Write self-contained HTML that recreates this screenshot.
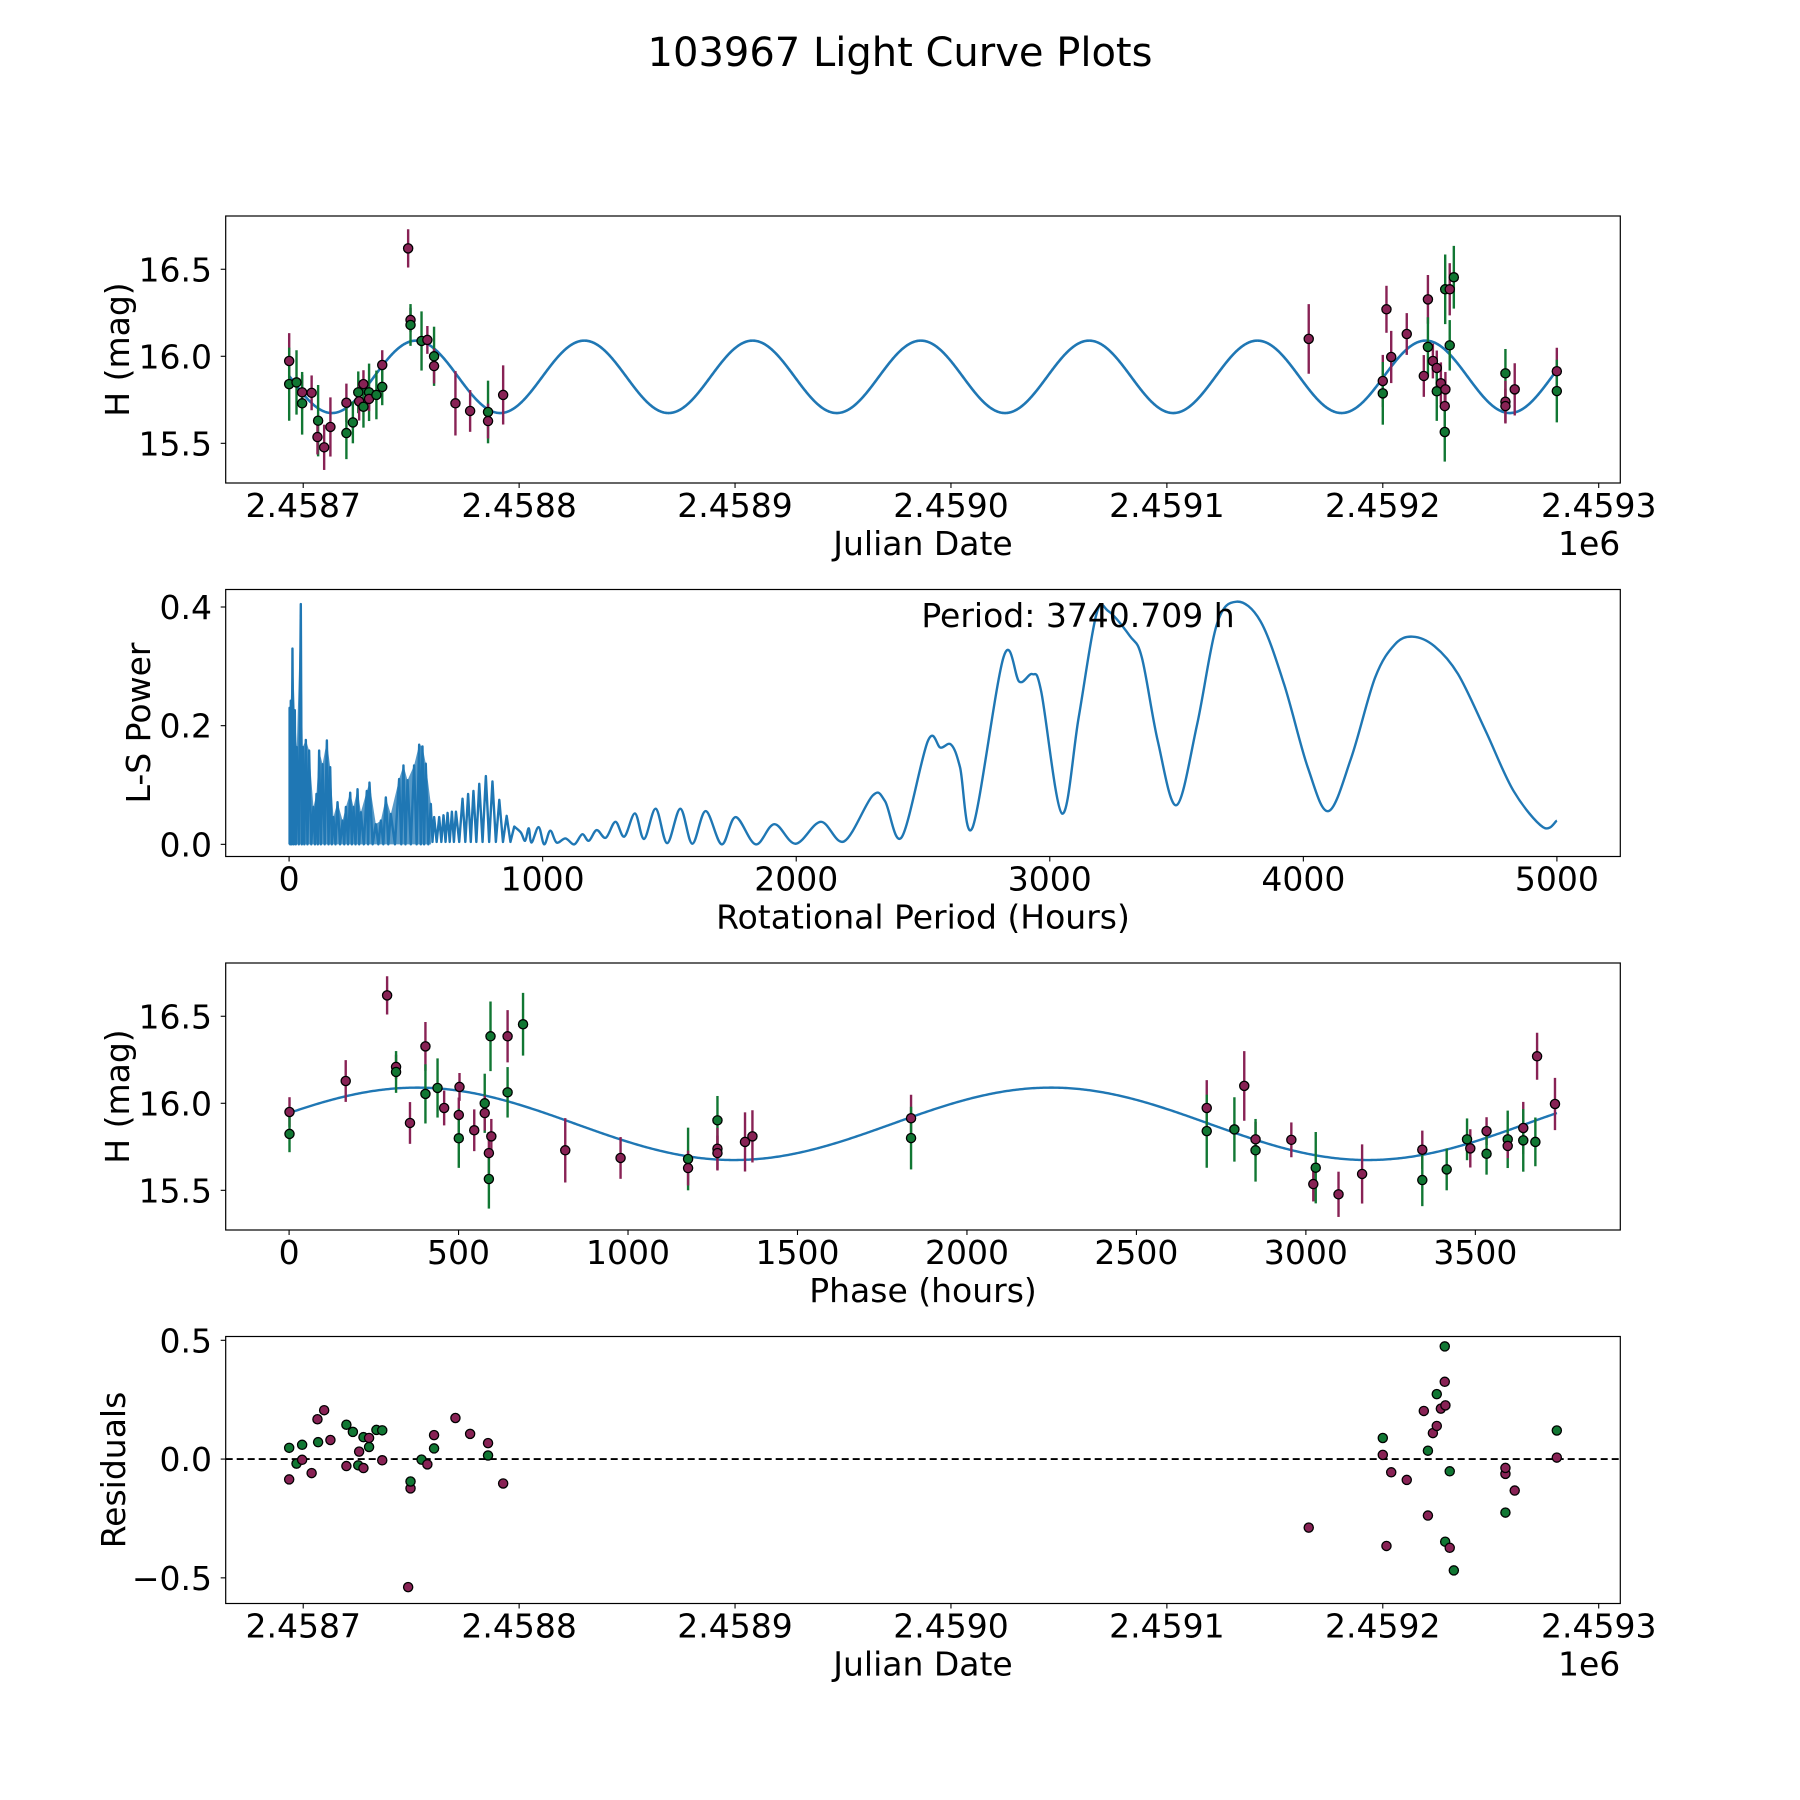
<!DOCTYPE html>
<html><head><meta charset="utf-8"><style>
html,body{margin:0;padding:0;background:#fff;}
svg{display:block;font-family:"DejaVu Sans","Liberation Sans",sans-serif;}
</style></head><body>
<svg id="fig" width="1800" height="1800" viewBox="0 0 1800 1800" xmlns="http://www.w3.org/2000/svg">
<rect width="1800" height="1800" fill="#fff"/>
<text x="900" y="66" font-size="40" text-anchor="middle">103967 Light Curve Plots</text>
</svg>
<script>
// ---------- observation data ----------
const obsJD = [2458693.5,2458693.5,2458696.9,2458699.5,2458699.5,2458703.9,2458706.9,2458706.6,2458709.7,2458712.6,2458720.0,2458720.0,2458723.0,2458725.5,2458725.9,2458727.9,2458727.9,2458730.5,2458730.5,2458733.9,2458736.6,2458736.6,2458748.6,2458749.7,2458749.7,2458754.8,2458757.5,2458760.6,2458760.6,2458770.5,2458777.3,2458785.6,2458785.6,2458792.6,2459165.7,2459200.0,2459200.0,2459201.7,2459203.9,2459211.1,2459219.0,2459220.9,2459220.9,2459223.2,2459225.0,2459225.0,2459226.9,2459228.7,2459228.7,2459228.9,2459229.0,2459231.0,2459231.0,2459232.9,2459256.8,2459256.8,2459256.8,2459261.1,2459280.6,2459280.6];
const obsMag = [15.973,15.84,15.85,15.793,15.73,15.79,15.63,15.536,15.477,15.594,15.733,15.559,15.62,15.793,15.741,15.84,15.71,15.793,15.755,15.778,15.95,15.824,16.62,16.209,16.18,16.088,16.094,16.0,15.944,15.73,15.686,15.68,15.628,15.778,16.10,15.858,15.787,16.27,15.996,16.128,15.887,16.327,16.054,15.973,15.933,15.799,15.845,15.714,15.565,16.385,15.81,16.385,16.063,16.454,15.902,15.739,15.714,15.81,15.914,15.80];
const obsErr = [0.16,0.21,0.185,0.10,0.18,0.10,0.205,0.10,0.13,0.17,0.11,0.15,0.12,0.12,0.11,0.08,0.12,0.165,0.07,0.14,0.085,0.105,0.11,0.07,0.12,0.17,0.08,0.17,0.10,0.185,0.12,0.18,0.10,0.17,0.2,0.15,0.18,0.135,0.15,0.12,0.12,0.14,0.17,0.10,0.10,0.17,0.12,0.12,0.17,0.20,0.10,0.15,0.145,0.18,0.14,0.12,0.10,0.15,0.135,0.18];
const obsFilter = ['P','G','G','P','G','P','G','P','P','P','P','G','G','G','P','P','G','G','P','G','P','G','P','P','G','G','P','G','P','P','P','G','P','P','P','P','G','P','P','P','P','P','G','P','P','G','P','P','G','G','P','P','G','G','G','P','P','P','P','G'];
// ---------- fit parameters ----------
const fitPeriodHours = 3740.709;
const fitMean = 15.882;
const fitAmp = 0.208;
const fitPeakJD = 2458830.2;
const phaseRefJD = 2458736.55;
// ---------- periodogram ----------
const lsPeakPeriod = [2,6.7,13.3,22.5,30.4,46.2,54,66,79,96,108,118.5,132,149,162,175,191,211,224,241,254,270,283,306.5,317,342,362,381.5,401,434,451,467,493,513,526,539,559,572,592,609,625,642,658,684,706,727,750,776,802,829,858,888];
const lsPeakPower = [0.23,0.242,0.33,0.226,0.164,0.405,0.164,0.176,0.158,0.063,0.085,0.158,0.135,0.175,0.13,0.046,0.071,0.04,0.063,0.087,0.063,0.093,0.054,0.09,0.104,0.034,0.04,0.079,0.051,0.11,0.133,0.108,0.133,0.168,0.165,0.136,0.068,0.046,0.046,0.049,0.053,0.055,0.055,0.077,0.085,0.09,0.102,0.115,0.106,0.075,0.048,0.03];
const lsSmoothPeriod = [914,931,945,956,984,1006,1030,1055,1090,1125,1156,1182,1213,1249,1287,1322,1364,1400,1446,1491,1543,1590,1643,1706,1761,1840,1914,1998,2097,2189,2301,2350,2416,2519,2569,2611,2646,2696,2818,2880,2931,2966,3048,3114,3184,3231,3316,3363,3426,3500,3581,3659,3737,3831,3924,4018,4099,4189,4283,4361,4431,4517,4610,4719,4829,4945,5000];
const lsSmoothPower = [0.02,0.006,0.027,0.003,0.029,0,0.023,0.003,0.01,0,0.017,0.006,0.024,0.011,0.038,0.013,0.052,0.009,0.06,0.002,0.06,0.001,0.056,0,0.046,0,0.034,0.001,0.038,0.005,0.082,0.073,0.012,0.174,0.163,0.168,0.13,0.029,0.316,0.274,0.287,0.258,0.052,0.214,0.388,0.393,0.351,0.315,0.174,0.066,0.202,0.371,0.409,0.376,0.27,0.129,0.056,0.146,0.281,0.337,0.35,0.334,0.287,0.191,0.09,0.029,0.04];
// ---------- tick labels ----------
const jdTicks = [2458700,2458800,2458900,2459000,2459100,2459200,2459300];
const jdTickLabels = ['2.4587','2.4588','2.4589','2.4590','2.4591','2.4592','2.4593'];
const magTicks = [15.5,16.0,16.5];
const magTickLabels = ['15.5','16.0','16.5'];
const lsXTicks = [0,1000,2000,3000,4000,5000];
const lsYTicks = [0,0.2,0.4];
const lsYTickLabels = ['0.0','0.2','0.4'];
const phaseTicks = [0,500,1000,1500,2000,2500,3000,3500];
const resTicks = [-0.5,0,0.5];
const resTickLabels = ['\u22120.5','0.0','0.5'];

const NS='http://www.w3.org/2000/svg';
const svg=document.getElementById('fig');
const COL={P:'#882255',G:'#117733'};
const L=225.7,R=1620.3,H=267;
const tops=[216,589.5,963,1336.5];
function mk(tag,attrs,parent){const e=document.createElementNS(NS,tag);for(const k in attrs)e.setAttribute(k,attrs[k]);(parent||svg).appendChild(e);return e;}
function lin(d0,d1,p0,p1){return v=>p0+(v-d0)*(p1-p0)/(d1-d0);}

function model(jd){return fitMean+fitAmp*Math.cos(2*Math.PI*(jd-fitPeakJD)/(fitPeriodHours/48));}
function phaseOf(jd){let p=((jd-phaseRefJD)*24)%fitPeriodHours;if(p<0)p+=fitPeriodHours;return p;}

function panel(i,name){
  const g=mk('g',{});
  
  
  return g;
}
function frame(g,i){
  const r=mk('rect',{x:L,y:tops[i],width:R-L,height:H,fill:'none',stroke:'#000','stroke-width':1.2},g);
  
  
}
function xTicks(g,i,ticks,labels,sx,label){
  const b=tops[i]+H;
  ticks.forEach((t,k)=>{
    const x=sx(t);
    mk('line',{x1:x,x2:x,y1:b,y2:b+5,stroke:'#000','stroke-width':1.1},g);
    const tx=mk('text',{x:x,y:b+34,'font-size':33,'text-anchor':'middle'},g);
    tx.textContent=labels[k];
    
    
  });
  const lt=mk('text',{x:(L+R)/2,y:b+72,'font-size':33,'text-anchor':'middle'},g);
  lt.textContent=label;
  
  
}
function yTicks(g,i,ticks,labels,sy,label,lx){
  ticks.forEach((t,k)=>{
    const y=sy(t);
    mk('line',{x1:L-5,x2:L,y1:y,y2:y,stroke:'#000','stroke-width':1.1},g);
    const tx=mk('text',{x:212,y:y+12,'font-size':33,'text-anchor':'end'},g);
    tx.textContent=labels[k];
    
    
  });
  const cy=tops[i]+H/2;
  const lt=mk('text',{x:lx,y:cy,'font-size':33,'text-anchor':'middle',transform:`rotate(-90 ${lx} ${cy})`},g);
  lt.textContent=label;
  
  
}
function clip(i){
  const cp=mk('clipPath',{id:'clip'+i});
  mk('rect',{x:L,y:tops[i],width:R-L,height:H},cp);
  return 'url(#clip'+i+')';
}
function errPoints(g,xs,ys,errs,filt,sx,sy){
  xs.forEach((x,k)=>{
    const px=sx(x);
    const el=mk('line',{x1:px,x2:px,y1:sy(ys[k]+errs[k]),y2:sy(ys[k]-errs[k]),stroke:COL[filt[k]],'stroke-width':2.4},g);
    
    
  });
  xs.forEach((x,k)=>{
    const c=mk('circle',{cx:sx(x),cy:sy(ys[k]),r:4.6,fill:COL[filt[k]],stroke:'#000','stroke-width':1.3},g);
    
    
  });
}

// ---------- Panel 1: light curve ----------
{
  const g=panel(0,'light-curve-panel');
  const sx=lin(2458664.1,2459310.0,L,R), sy=lin(15.272,16.806,tops[0]+H,tops[0]);
  const gc=mk('g',{'clip-path':clip(0)},g);
  let d='';const j0=obsJD[0],j1=obsJD[obsJD.length-1];
  for(let k=0;k<=2000;k++){const jd=j0+(j1-j0)*k/2000;d+=(k?'L':'M')+sx(jd).toFixed(2)+' '+sy(model(jd)).toFixed(2);}
  const p=mk('path',{d:d,fill:'none',stroke:'#1f77b4','stroke-width':2.6},gc);
  
  
  errPoints(gc,obsJD,obsMag,obsErr,obsFilter,sx,sy);
  frame(g,0);
  xTicks(g,0,jdTicks,jdTickLabels,sx,'Julian Date');
  const e=mk('text',{x:R,y:tops[0]+H+72,'font-size':33,'text-anchor':'end'},g);e.textContent='1e6';
  
  
  yTicks(g,0,magTicks,magTickLabels,sy,'H (mag)',129);
}
// ---------- Panel 2: periodogram ----------
{
  const g=panel(1,'periodogram-panel');
  const sx=lin(-250,5250,L,R), sy=lin(-0.0205,0.4295,tops[1]+H,tops[1]);
  const gc=mk('g',{'clip-path':clip(1)},g);
  let f='M'+sx(lsPeakPeriod[0])+' '+sy(0);
  lsPeakPeriod.forEach((h,k)=>{if(h<=560)f+='L'+sx(h).toFixed(2)+' '+sy(lsPeakPower[k]).toFixed(2);});
  f+='L'+sx(560)+' '+sy(0)+'Z';
  const fe=mk('path',{d:f,fill:'#1f77b4','fill-opacity':0.75,stroke:'none'},gc);
  
  
  let d='';
  lsPeakPeriod.forEach((h,k)=>{
    const x=sx(h),y=sy(lsPeakPower[k]);
    if(k===0)d+='M'+x+' '+sy(0);
    else{const hm=(lsPeakPeriod[k-1]+h)/2;d+='L'+sx(hm).toFixed(2)+' '+sy(h<560?0:0.004).toFixed(2);}
    d+='L'+x.toFixed(2)+' '+y.toFixed(2);
  });
  const P=lsSmoothPeriod.map((h,k)=>[sx(h),sy(lsSmoothPower[k])]);
  const last=lsPeakPeriod.length-1;
  P.unshift([sx(lsPeakPeriod[last]),sy(lsPeakPower[last])]);
  for(let k=0;k<P.length-1;k++){
    const p0=P[k-1]||P[k],p1=P[k],p2=P[k+1],p3=P[k+2]||P[k+1];
    const c1=[p1[0]+(p2[0]-p0[0])/6,p1[1]+(p2[1]-p0[1])/6];
    const c2=[p2[0]-(p3[0]-p1[0])/6,p2[1]-(p3[1]-p1[1])/6];
    d+=`C${c1[0].toFixed(2)} ${c1[1].toFixed(2)} ${c2[0].toFixed(2)} ${c2[1].toFixed(2)} ${p2[0].toFixed(2)} ${p2[1].toFixed(2)}`;
  }
  const pl=mk('path',{d:d,fill:'none',stroke:'#1f77b4','stroke-width':2.4,'stroke-linejoin':'round'},gc);
  
  
  const t=mk('text',{x:1078,y:627,'font-size':33,'text-anchor':'middle'},g);
  t.textContent='Period: '+fitPeriodHours.toFixed(3)+' h';
  
  
  frame(g,1);
  xTicks(g,1,lsXTicks,lsXTicks.map(String),sx,'Rotational Period (Hours)');
  yTicks(g,1,lsYTicks,lsYTickLabels,sy,'L-S Power',150);
}
// ---------- Panel 3: phased ----------
{
  const g=panel(2,'phased-curve-panel');
  const sx=lin(-187.04,3927.7,L,R), sy=lin(15.272,16.806,tops[2]+H,tops[2]);
  const gc=mk('g',{'clip-path':clip(2)},g);
  let d='';
  for(let k=0;k<=800;k++){const ph=fitPeriodHours*k/800;const jd=phaseRefJD+ph/24;d+=(k?'L':'M')+sx(ph).toFixed(2)+' '+sy(model(jd)).toFixed(2);}
  const p=mk('path',{d:d,fill:'none',stroke:'#1f77b4','stroke-width':2.4},gc);
  
  
  errPoints(gc,obsJD.map(phaseOf),obsMag,obsErr,obsFilter,sx,sy);
  frame(g,2);
  xTicks(g,2,phaseTicks,phaseTicks.map(String),sx,'Phase (hours)');
  yTicks(g,2,magTicks,magTickLabels,sy,'H (mag)',129);
}
// ---------- Panel 4: residuals ----------
{
  const g=panel(3,'residuals-panel');
  const sx=lin(2458664.1,2459310.0,L,R), sy=lin(-0.608,0.516,tops[3]+H,tops[3]);
  const gc=mk('g',{'clip-path':clip(3)},g);
  const z=mk('line',{x1:L,x2:R,y1:sy(0),y2:sy(0),stroke:'#000','stroke-width':1.8,'stroke-dasharray':'7,4'},gc);
  
  
  obsJD.forEach((jd,k)=>{
    const c=mk('circle',{cx:sx(jd),cy:sy(model(jd)-obsMag[k]),r:4.6,fill:COL[obsFilter[k]],stroke:'#000','stroke-width':1.3},gc);
    
    
  });
  frame(g,3);
  xTicks(g,3,jdTicks,jdTickLabels,sx,'Julian Date');
  const e=mk('text',{x:R,y:tops[3]+H+72,'font-size':33,'text-anchor':'end'},g);e.textContent='1e6';
  
  
  yTicks(g,3,resTicks,resTickLabels,sy,'Residuals',125);
}
</script>
</body></html>
